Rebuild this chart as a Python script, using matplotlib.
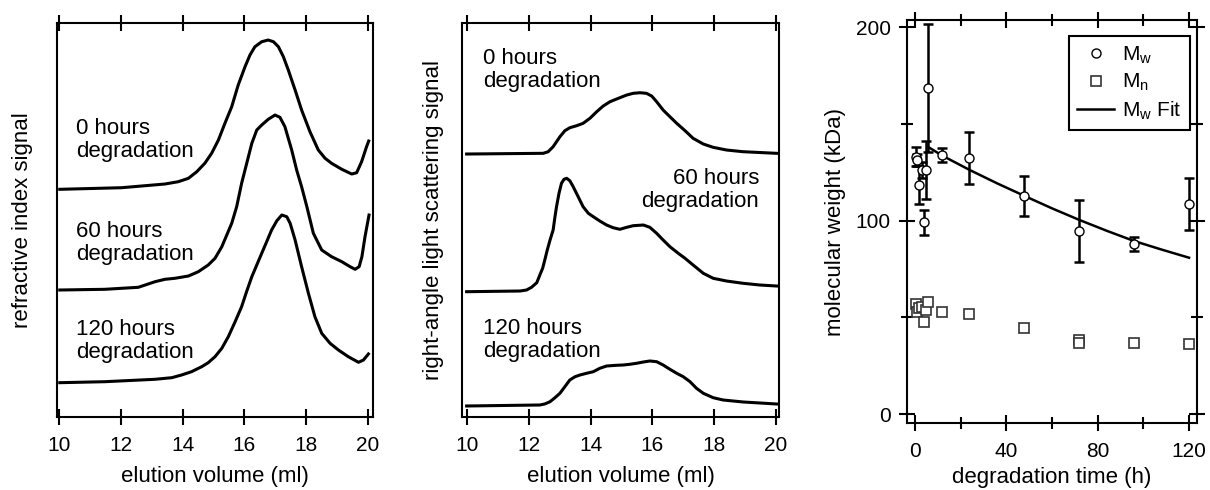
import matplotlib
matplotlib.use("Agg")
import matplotlib.pyplot as plt
from matplotlib.ticker import MultipleLocator

plt.rcParams['font.family'] = ['Liberation Sans', 'DejaVu Sans']
plt.rcParams['mathtext.default'] = 'regular'

# ----------------------------------------------------------------------------
# Data (signals in arbitrary units)
# ----------------------------------------------------------------------------
# refractive index traces
ri_x_0h = [10.03, 12.03, 13.43, 13.86, 14.19, 14.46, 14.72, 14.94, 15.16, 15.37,
           15.59, 15.80, 16.02, 16.18, 16.34, 16.56, 16.77, 16.94, 17.10, 17.26,
           17.42, 17.64, 17.85, 18.12, 18.39, 18.61, 18.82, 19.15, 19.47, 19.63,
           19.79, 19.95, 20.02]
ri_y_0h = [227.7, 229.3, 233, 235.3, 238.7, 245.3, 253.7, 263.7, 277, 293.7,
           310.3, 332, 350.3, 362, 370.3, 375.3, 377, 375.3, 370.3, 360.3,
           347, 327, 307, 285.3, 267, 258.7, 253.7, 247.7, 243, 244.3,
           255.3, 270.3, 276]

ri_x_60h = [10.03, 11.49, 12.57, 13.11, 13.43, 13.75, 14.19, 14.51, 14.83, 15.05,
            15.27, 15.43, 15.59, 15.75, 15.91, 16.24, 16.40, 16.56, 16.77, 16.99,
            17.15, 17.31, 17.53, 17.69, 17.85, 18.02, 18.23, 18.50, 18.82, 19.15,
            19.42, 19.58, 19.71, 19.80, 19.90, 20.03]
ri_y_60h = [127, 127.7, 129.7, 135.3, 137.7, 138.7, 141, 145.3, 152, 158.7,
            170.3, 182, 193.7, 210.3, 233.7, 273.7, 287, 292, 297.7, 302,
            299.7, 290.3, 267, 247, 230.3, 210.3, 183.7, 167, 160.3, 155.3,
            150.3, 147.7, 150.3, 160.3, 180.3, 202]

ri_x_120h = [10.03, 11.49, 13.11, 13.65, 13.97, 14.29, 14.62, 14.83, 15.05, 15.27,
             15.48, 15.70, 15.91, 16.07, 16.24, 16.40, 16.56, 16.72, 16.88, 17.05,
             17.21, 17.37, 17.48, 17.64, 17.85, 18.07, 18.28, 18.50, 18.77, 19.04,
             19.36, 19.69, 19.85, 20.01]
ri_y_120h = [34.3, 35.3, 37.7, 39.3, 42, 45.3, 50.3, 54.3, 60.3, 68.7,
             80.3, 95.3, 110.3, 125.3, 140.3, 152, 163.7, 175.3, 187, 196.3,
             202, 200.3, 193.7, 177, 150.3, 123.7, 100.3, 83.7, 73.7, 67,
             60.3, 54.7, 57, 63]

# right-angle light scattering traces
ls_x_0h = [9.99, 12.47, 12.63, 12.79, 13.01, 13.17, 13.33, 13.55, 13.76, 13.98,
           14.20, 14.41, 14.63, 14.90, 15.17, 15.38, 15.60, 15.81, 15.98, 16.14,
           16.35, 16.57, 16.79, 17.06, 17.32, 17.65, 17.97, 18.40, 18.94, 20.02]
ls_y_0h = [263, 263.7, 265.3, 270.3, 280.3, 286.3, 289.3, 291.3, 293.7, 298.7,
           305.3, 311, 315.3, 318.7, 322, 323.7, 324.3, 323.7, 321, 315.3,
           307, 300.3, 293.7, 286.3, 278.7, 273, 269.7, 267, 265.3, 263.7]

ls_x_60h = [9.99, 11.72, 11.93, 12.09, 12.26, 12.36, 12.45, 12.52, 12.60, 12.69,
            12.79, 12.85, 12.90, 12.98, 13.06, 13.14, 13.23, 13.33, 13.44, 13.60,
            13.76, 13.93, 14.09, 14.30, 14.52, 14.73, 14.95, 15.17, 15.38, 15.71,
            15.92, 16.14, 16.35, 16.57, 16.84, 17.06, 17.32, 17.65, 17.97, 18.40,
            18.94, 19.48, 20.02]
ls_y_60h = [125.3, 126, 127, 129.7, 134.3, 142, 148.7, 157, 167, 177,
            187, 200.3, 210.3, 223.7, 233.7, 237.7, 238.7, 236.3, 230.3, 220.3,
            210.3, 203.7, 200.3, 196, 192, 189.3, 187.7, 189.7, 191.3, 192,
            189.7, 183.7, 177, 170.3, 163.7, 158.7, 152, 143.7, 138.7, 136,
            133.7, 132, 131]

ls_x_120h = [9.99, 12.36, 12.52, 12.69, 12.85, 13.01, 13.17, 13.33, 13.50, 13.66,
             13.87, 14.09, 14.30, 14.52, 14.84, 15.06, 15.27, 15.49, 15.71, 15.92,
             16.14, 16.35, 16.57, 16.79, 17.00, 17.22, 17.43, 17.65, 17.97, 18.29,
             18.94, 20.02]
ls_y_120h = [11, 12, 13, 15.3, 19.3, 23.7, 30.3, 37, 40.3, 42,
             43.7, 45.3, 48.7, 51, 51.7, 52, 52.7, 53.7, 55, 56,
             55.3, 52, 47.7, 43.7, 40.3, 35.3, 28.7, 23.7, 19.3, 17,
             15, 13]

trace_labels = ['0 hours\ndegradation', '60 hours\ndegradation', '120 hours\ndegradation']

# molecular weight vs degradation time
mw_t = [0.4, 0.7, 1.7, 3.0, 3.8, 4.7, 5.6, 11.8, 23.7, 47.8, 71.7, 95.9, 119.8]
mw = [133, 131.3, 118.3, 126.1, 99, 126.1, 168.3, 133.9, 132.4, 112.7, 94.6, 87.7, 108.4]
mw_err = [5, 3, 10, 4, 6.7, 15, 33, 3.5, 13.3, 10.5, 15.8, 3.6, 13.5]

mn_t = [0.4, 0.7, 1.7, 3.0, 3.8, 4.7, 5.6, 11.8, 23.7, 47.8, 71.7, 71.7, 95.9, 119.8]
mn = [56.8, 52.9, 54.6, 55.5, 47.4, 53.7, 58, 52.5, 51.7, 44.3, 38.2, 36.8, 36.5, 36]

fit_t = [5.5, 12, 24, 36, 48, 60, 72, 84, 96, 108, 120]
fit_mw = [138.2, 133.5, 126.1, 119.2, 112.7, 106.3, 100.3, 94.7, 89.4, 85, 80.8]

# ----------------------------------------------------------------------------
# Figure
# ----------------------------------------------------------------------------
fig = plt.figure(figsize=(12.1, 4.9), dpi=100)

ax1 = fig.add_axes([0.0471, 0.149, 0.2612, 0.804])
ax2 = fig.add_axes([0.3818, 0.149, 0.2620, 0.804])
ax3 = fig.add_axes([0.7496, 0.1367, 0.2397, 0.8224])

LW = 2.2
TICK_FS = 15
LABEL_FS = 16


def style_frame(ax):
    for sp in ax.spines.values():
        sp.set_linewidth(1.5)
    ax.tick_params(axis='both', which='both', direction='inout', width=1.5,
                   labelsize=TICK_FS, pad=8)


def style_trace_axes(ax, xlim):
    style_frame(ax)
    ax.set_xlim(*xlim)
    ax.set_ylim(0, 394)
    ax.set_xticks([10, 12, 14, 16, 18, 20])
    ax.set_yticks([])
    ax.tick_params(axis='x', which='major', length=12, top=True, bottom=True)
    ax.set_xlabel('elution volume (ml)', fontsize=LABEL_FS)
    ax.xaxis.set_label_coords(0.5, -0.152)
    ax.xaxis.label.set_verticalalignment('center')


# Plot 1: refractive index
ax1.plot(ri_x_0h, ri_y_0h, color='black', lw=LW)
ax1.plot(ri_x_60h, ri_y_60h, color='black', lw=LW)
ax1.plot(ri_x_120h, ri_y_120h, color='black', lw=LW)
style_trace_axes(ax1, (9.94, 20.16))
ax1.set_ylabel('refractive index signal', fontsize=LABEL_FS)
ax1.yaxis.set_label_coords(-0.108, 0.5)
ax1.yaxis.label.set_verticalalignment('center')
for lab, ypos in zip(trace_labels, [0.703, 0.442, 0.193]):
    ax1.text(0.060, ypos, lab, transform=ax1.transAxes, fontsize=LABEL_FS,
             ha='left', va='center', linespacing=1.15)

# Plot 2: light scattering
ax2.plot(ls_x_0h, ls_y_0h, color='black', lw=LW)
ax2.plot(ls_x_60h, ls_y_60h, color='black', lw=LW)
ax2.plot(ls_x_120h, ls_y_120h, color='black', lw=LW)
style_trace_axes(ax2, (9.84, 20.10))
ax2.set_ylabel('right-angle light scattering signal', fontsize=LABEL_FS)
ax2.yaxis.set_label_coords(-0.091, 0.5)
ax2.yaxis.label.set_verticalalignment('center')
ax2.text(0.066, 0.881, trace_labels[0], transform=ax2.transAxes, fontsize=LABEL_FS,
         ha='left', va='center', linespacing=1.15)
ax2.text(0.937, 0.576, trace_labels[1], transform=ax2.transAxes, fontsize=LABEL_FS,
         ha='right', va='center', multialignment='right', linespacing=1.15)
ax2.text(0.066, 0.195, trace_labels[2], transform=ax2.transAxes, fontsize=LABEL_FS,
         ha='left', va='center', linespacing=1.15)

# Plot 3: molecular weight
style_frame(ax3)
ax3.plot(fit_t, fit_mw, color='black', lw=1.8, zorder=2, label=r'M$_{w}$ Fit')
ax3.errorbar(mw_t, mw, yerr=mw_err, fmt='none', ecolor='black', elinewidth=1.8,
             capsize=3.6, capthick=1.8, zorder=3)
ax3.plot(mw_t, mw, 'o', ms=6.5, mfc='white', mec='black', mew=1.0, zorder=4,
         label=r'M$_{w}$')
ax3.plot(mn_t, mn, 's', ms=6.5, mfc='white', mec='#333333', mew=1.2, zorder=4,
         label=r'M$_{n}$')
ax3.set_xlim(-3.5, 123.5)
ax3.set_ylim(-4.6, 203.6)
ax3.xaxis.set_major_locator(MultipleLocator(40))
ax3.xaxis.set_minor_locator(MultipleLocator(20))
ax3.yaxis.set_major_locator(MultipleLocator(100))
ax3.yaxis.set_minor_locator(MultipleLocator(50))
ax3.tick_params(axis='both', which='major', length=11.5, top=True, right=True)
ax3.tick_params(axis='both', which='minor', length=8, top=True, right=True)
ax3.tick_params(axis='y', which='major', pad=6)
ax3.set_xlabel('degradation time (h)', fontsize=LABEL_FS)
ax3.xaxis.set_label_coords(0.5, -0.134)
ax3.xaxis.label.set_verticalalignment('center')
ax3.set_ylabel('molecular weight (kDa)', fontsize=LABEL_FS)
ax3.yaxis.set_label_coords(-0.248, 0.5)
ax3.yaxis.label.set_verticalalignment('center')

handles, labels = ax3.get_legend_handles_labels()
order = [1, 2, 0]
leg = ax3.legend([handles[i] for i in order], [labels[i] for i in order],
                 loc='upper right', bbox_to_anchor=(0.976, 0.960), borderaxespad=0,
                 fontsize=TICK_FS, frameon=True, fancybox=False, framealpha=1,
                 edgecolor='black', handlelength=1.75, handletextpad=0.4,
                 labelspacing=0.3, borderpad=0.4)
leg.get_frame().set_linewidth(1.5)

fig.savefig('out.png', dpi=100)
